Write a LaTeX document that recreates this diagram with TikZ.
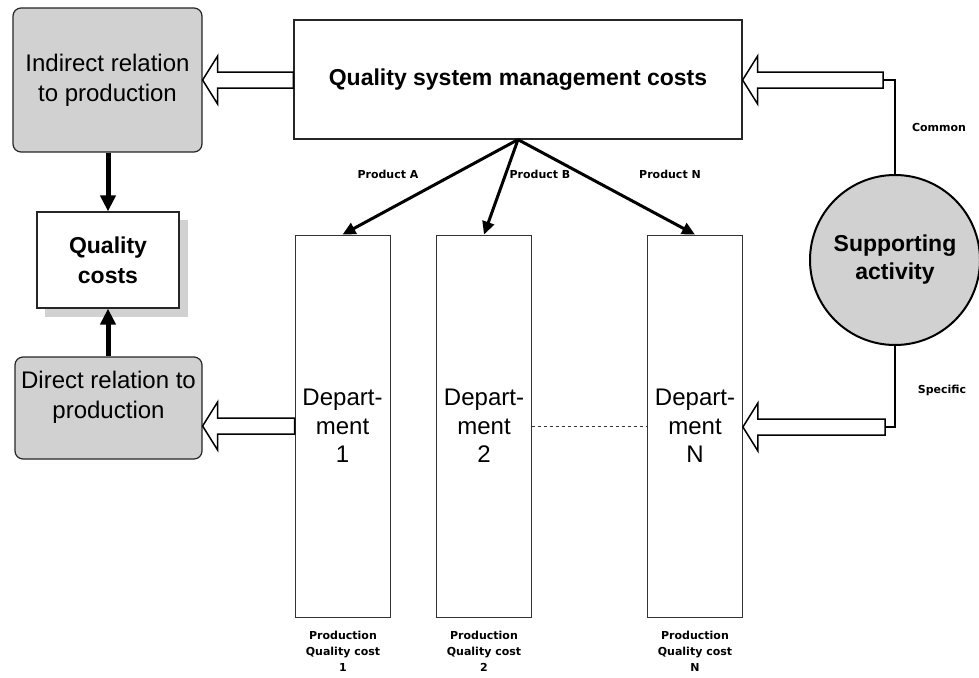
\documentclass[tikz,border=0pt]{standalone}
\usepackage{fontspec}
\setmainfont{Liberation Sans}
\newfontfamily\lblfont{DejaVu Sans}
\usetikzlibrary{arrows.meta,calc}

% hollow block arrow pointing left, from tail #1 to tip #2
\newcommand\hollowarrow[2]{%
  \draw[hollow] let \p1=#1, \p2=#2 in
    (\x2,\y2) -- ++(15pt,24pt) -- ++(0,-16pt) -- (\x1,\y2+8pt)
    -- (\x1,\y2-8pt) -- (\x2+15pt,\y2-8pt) -- ++(0,-16pt) -- cycle;}

\begin{document}
\begin{tikzpicture}[x=1pt,y=-1pt,
  box/.style={draw=black!85, line width=1.2pt, inner sep=0pt, align=center},
  grainy/.style={fill=black!18},
  roundbox/.style={box, grainy, rounded corners=8pt},
  bigtext/.style={font=\fontsize{24}{30}\selectfont},
  boldtext/.style={font=\bfseries\fontsize{23}{30}\selectfont},
  dept/.style={draw=black!80, line width=0.8pt, inner sep=0pt,
    minimum width=95pt, minimum height=382pt, align=center,
    font=\fontsize{24}{28.5}\selectfont},
  bigarrow/.style={line width=5pt, -{Triangle[length=16pt,width=15pt]}},
  prodarrow/.style={line width=3pt, -{Triangle[length=13pt,width=12pt]}},
  lbl/.style={font=\lblfont\bfseries\fontsize{11}{16}\selectfont, align=center},
  hollow/.style={draw=black, line width=1.5pt, fill=white, line join=miter},
  link/.style={draw=black, line width=1.3pt}]

\useasboundingbox (0,0) rectangle (979,677);

% management cost box
\node[box, minimum width=448pt, minimum height=119pt, font=\bfseries\fontsize{23}{28}\selectfont]
  (qsm) at (518,79.5) {Quality system management costs};

% left column
\node[roundbox, minimum width=189pt, minimum height=144pt, bigtext]
  (ind) at (107.5,80) {Indirect relation\\to production};

\fill[grainy] (45,220) rectangle (188,317);
\node[box, fill=white, minimum width=142pt, minimum height=96pt, boldtext]
  (qc) at (108,260) {Quality\\costs};

\node[roundbox, minimum width=187pt, minimum height=102pt] (dir) at (108.5,408) {};
\node[bigtext, align=center, inner sep=0pt] (dirtext) at (108.5,397)
  {Direct relation to\\production};

% departments
\node[dept] (d1) at (342.5,426) {Depart-\\ment\\1};
\node[dept] (d2) at (484,426) {Depart-\\ment\\2};
\node[dept] (dN) at (695,426) {Depart-\\ment\\N};

\draw[black!80, line width=0.8pt, dash pattern=on 3pt off 3pt] (d2.east) -- (dN.east -| dN.west);

% supporting activity
\node[circle, draw=black, line width=2pt, grainy, minimum size=170pt, inner sep=0pt,
  align=center, font=\bfseries\fontsize{23}{28}\selectfont]
  (sup) at (895,260) {Supporting\\activity};

% product flows
\draw[prodarrow] (qsm.south) -- (d1.north);
\draw[prodarrow] (qsm.south) -- (d2.north);
\draw[prodarrow] (qsm.south) -- (dN.north);
\node[lbl] (pa) at (388,174) {Product A};
\node[lbl] (pb) at (540,174) {Product B};
\node[lbl] (pn) at (670,174) {Product N};

% vertical flows into quality costs
\draw[bigarrow] (ind.south -| qc.north) -- (qc.north);
\draw[bigarrow] (dir.north -| qc.south) -- (qc.south);

% block arrows
\coordinate (tC) at (883,80);
\coordinate (tS) at (885,427);
\hollowarrow{(qsm.west)}{(ind.east)}
\hollowarrow{(d1.west)}{(dir.east |- d1.west)}
\hollowarrow{(tC)}{(qsm.east |- tC)}
\hollowarrow{(tS)}{(dN.east |- tS)}
\draw[link] (sup.north) |- (tC);
\draw[link] (sup.south) |- (tS);

\node[lbl] (common) at (939,127) {Common};
\node[lbl] (specific) at (942,390) {Specific};

% cost labels under departments
\node[lbl, anchor=north] (c1) at (343,628) {Production\\Quality cost\\1};
\node[lbl, anchor=north] (c2) at (484,628) {Production\\Quality cost\\2};
\node[lbl, anchor=north] (cN) at (695,628) {Production\\Quality cost\\N};
\end{tikzpicture}
\end{document}
